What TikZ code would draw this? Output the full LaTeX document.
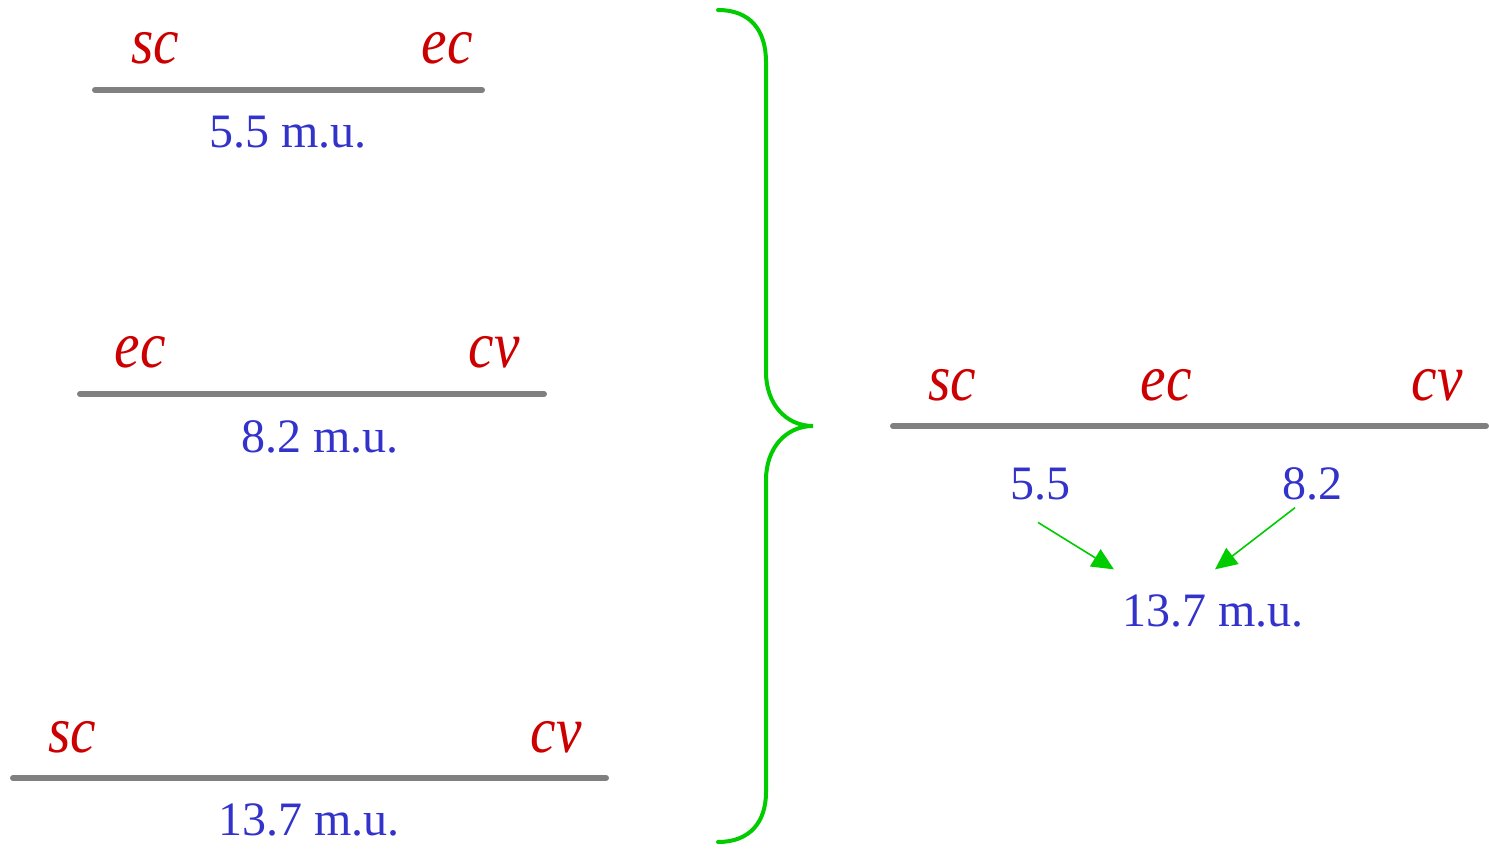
\documentclass[tikz,border=0pt]{standalone}
\usepackage{fontspec}
\setmainfont{Liberation Serif}
\newfontfamily\locfont[FakeStretch=0.87]{Liberation Serif Italic}
\usetikzlibrary{arrows.meta,positioning}
\definecolor{locred}{HTML}{CC0000}
\definecolor{distblue}{HTML}{3333CC}
\definecolor{bracegreen}{HTML}{00CC00}

\begin{document}
\begin{tikzpicture}[x={(0.5pt,0)},y={(0,-0.5pt)},
    locus/.style={inner sep=0pt,text=locred,font=\locfont\fontsize{33}{38}\selectfont},
    dist/.style={inner sep=0pt,text=distblue,font=\fontsize{24}{29}\selectfont},
    bar/.style={line width=3pt,draw=gray,line cap=round},
    arrow/.style={-{Triangle[length=11pt,width=10pt]},draw=bracegreen,fill=bracegreen,line width=0.8pt}]
    \useasboundingbox (0,0) rectangle (1489,850);
    % first cross
    \node[locus] (sc1) at (155,48) {sc};
    \node[locus] (ec1) at (447,48) {ec};
    \draw[bar] (95,90) -- (482,90);
    \node[dist] (d1) at (288,132) {5.5 m.u.};
    % second cross
    \node[locus] (ec2) at (140,352) {ec};
    \node[locus] (cv2) at (494,352) {cv};
    \draw[bar] (80,394) -- (544,394);
    \node[dist] (d2) at (320,437) {8.2 m.u.};
    % third cross
    \node[locus] (sc3) at (72,737) {sc};
    \node[locus] (cv3) at (556,737) {cv};
    \draw[bar] (13,778) -- (606,778);
    \node[dist] (d3) at (309,820) {13.7 m.u.};
    % brace
    \draw[bracegreen,line width=2pt,line cap=round]
        (718,10) .. controls (750,10) and (766,30) .. (766,62) -- (766,372)
        .. controls (766,404) and (786,426) .. (813,426)
        .. controls (786,426) and (766,448) .. (766,480) -- (766,792)
        .. controls (766,822) and (750,842) .. (718,842);
    % combined map
    \node[locus] (scm) at (952,385) {sc};
    \node[locus] (ecm) at (1166,385) {ec};
    \node[locus] (cvm) at (1437,385) {cv};
    \draw[bar] (893,426) -- (1486,426);
    \node[dist] (v55) at (1040,484) {5.5};
    \node[dist] (v82) at (1312,484) {8.2};
    \node[dist] (tot) at (1213,611) {13.7 m.u.};
    \draw[arrow] ([xshift=-1pt,yshift=-11pt]v55.south) -- ([xshift=-4pt,yshift=12.5pt]tot.north west);
    \draw[arrow] ([xshift=-8.5pt,yshift=-3.5pt]v82.south) -- ([xshift=1pt,yshift=12.5pt]tot.north);
\end{tikzpicture}
\end{document}
